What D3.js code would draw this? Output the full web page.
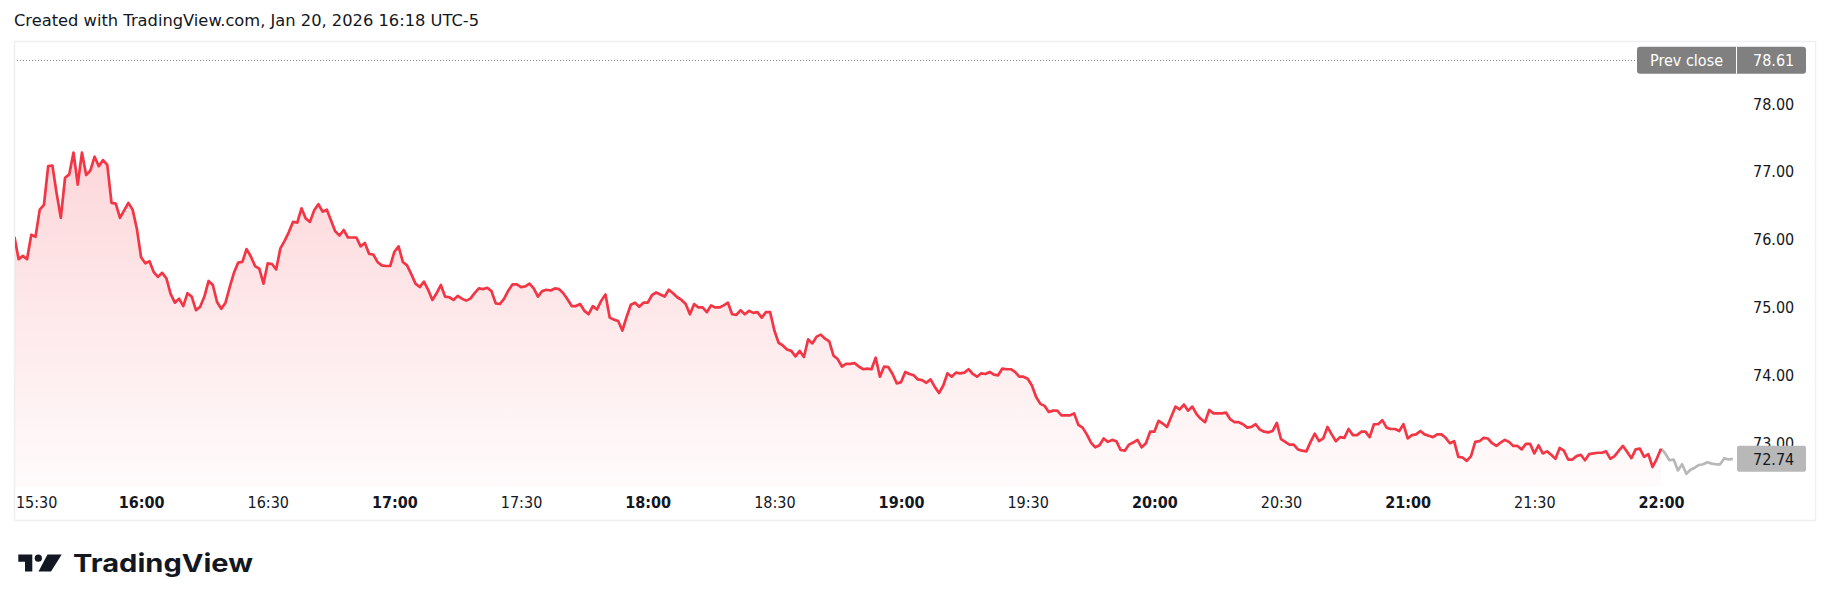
<!DOCTYPE html>
<html><head><meta charset="utf-8">
<script src="https://cdn.jsdelivr.net/npm/d3@7"></script>
<style>
html,body{margin:0;padding:0;background:#fff;}
svg{display:block;}
</style></head>
<body>
<svg id="chart" width="1830" height="611"></svg>
<script>
// ---------- data ----------
const headerText = "Created with TradingView.com, Jan 20, 2026 16:18 UTC-5";
const sessionStart = "15:30";
const axisEnd = "22:00";
// one close per minute, starting 15:30 (regular session, red)
const regularPrices = [
76.01,75.68,75.73,75.68,76.04,76.01,76.41,76.48,77.05,77.06,
76.65,76.29,76.88,76.93,77.25,76.78,77.25,76.92,76.99,77.19,
77.05,77.14,77.07,76.51,76.50,76.29,76.40,76.51,76.41,76.13,
75.71,75.62,75.65,75.49,75.42,75.48,75.40,75.17,75.04,75.10,
74.99,75.18,75.13,74.93,74.98,75.13,75.36,75.30,75.05,74.95,
75.04,75.27,75.48,75.63,75.64,75.83,75.72,75.58,75.54,75.32,
75.62,75.61,75.53,75.84,75.95,76.08,76.23,76.22,76.43,76.28,
76.23,76.40,76.49,76.38,76.41,76.25,76.09,76.03,76.11,76.00,
76.00,76.00,75.87,75.92,75.76,75.75,75.64,75.59,75.58,75.58,
75.79,75.87,75.64,75.59,75.46,75.32,75.27,75.35,75.23,75.08,
75.18,75.30,75.13,75.12,
75.08,75.14,75.10,75.07,75.10,75.18,75.25,75.24,75.26,75.21,
75.03,75.02,75.10,75.22,75.31,75.31,75.27,75.28,75.32,75.25,
75.13,75.21,75.23,75.22,75.25,75.24,75.18,75.09,74.99,74.99,
75.02,74.92,74.87,74.99,74.94,75.07,75.16,74.82,74.79,74.77,
74.63,74.83,75.01,75.04,74.98,75.04,75.04,75.15,75.19,75.16,
75.13,75.23,75.18,75.12,75.08,75.02,74.87,75.02,74.97,74.97,
74.90,75.00,74.97,74.97,75.00,75.04,74.87,74.86,74.93,74.87,
74.92,74.89,74.90,74.82,74.90,74.90,74.63,74.45,74.41,74.35,
74.33,74.25,74.33,74.24,74.50,74.44,74.54,74.57,74.51,74.47,
74.26,74.21,74.10,74.14,74.14,
74.15,74.10,74.06,74.07,74.06,74.23,73.95,74.10,74.09,73.99,
73.85,73.87,74.02,73.99,73.97,73.91,73.90,73.86,73.91,73.80,
73.71,73.82,74.00,73.95,74.01,74.00,74.01,74.06,73.99,73.95,
74.00,73.99,74.02,73.98,73.97,74.07,74.06,74.06,74.02,73.95,
73.95,73.92,73.82,73.65,73.55,73.52,73.43,73.45,73.45,73.38,
73.38,73.38,73.41,73.24,73.20,73.10,72.98,72.91,72.94,73.04,
72.99,73.02,73.00,72.87,72.86,72.95,72.98,73.02,72.91,72.97,
73.14,73.14,73.30,73.26,73.21,73.36,73.51,73.47,73.54,73.45,
73.51,73.40,73.33,73.28,73.46,73.41,73.41,73.41,73.42,73.32,
73.28,73.28,73.25,73.20,73.21,
73.25,73.17,73.14,73.13,73.15,73.27,73.03,72.99,72.95,72.95,
72.88,72.86,72.85,72.99,73.11,73.00,73.04,73.21,73.10,73.00,
73.06,73.05,73.18,73.09,73.09,73.14,73.14,73.06,73.25,73.25,
73.31,73.20,73.18,73.18,73.15,73.25,73.04,73.09,73.10,73.15,
73.10,73.08,73.06,73.10,73.10,73.05,72.97,73.00,72.77,72.76,
72.71,72.78,72.99,73.00,73.05,73.04,72.97,
72.93,72.98,73.02,72.99,72.93,72.93,72.88,72.96,72.96,72.82,
72.94,72.82,72.85,72.80,72.74,72.90,72.86,72.73,72.73,72.78,
72.80,72.72,72.81,72.82,72.83,72.83,72.85,72.74,72.78,72.86,
72.93,72.84,72.75,72.88,72.89,72.77,72.81,72.62,72.74,72.89
];
// extended hours continuation (grey)
const extendedPrices = [72.82,72.72,72.73,72.57,72.66,72.52,72.58,72.61,72.65,72.66,72.69,72.67,72.66,72.66,72.75,72.73,72.74];
const timeTicks = ["15:30","16:00","16:30","17:00","17:30","18:00","18:30","19:00","19:30","20:00","20:30","21:00","21:30","22:00"];
const priceTicks = [73,74,75,76,77,78];
const prevClose = 78.61;
const lastPrice = 72.74;
const prevCloseLabel = "Prev close";
const logoText = "TradingView";

// ---------- layout ----------
const panel = {x:14, y:41, w:1801, h:479};
const plot = {left:14.4, right:1661, bottom:486};
const FONT = "'DejaVu Sans Condensed','DejaVu Sans',sans-serif";
const RED = "#f23645", GREY = "#b8b8b8", TEXT = "#131722";

const svg = d3.select("#chart");
const parse = d3.timeParse("%H:%M");
const t0 = parse(sessionStart);

const x = d3.scaleTime().domain([t0, parse(axisEnd)]).range([plot.left, plot.right]);
const y = d3.scaleLinear().domain([73, 78]).range([441.2, 101.7]);

const reg = regularPrices.map((p,i)=>({t:d3.timeMinute.offset(t0,i), p}));
const lastReg = reg[reg.length-1];
const ext = [lastReg].concat(extendedPrices.map((p,i)=>({t:d3.timeMinute.offset(t0, regularPrices.length+i), p})));

// header
svg.append("text").attr("x",14).attr("y",25.5)
  .attr("font-family","'DejaVu Sans',sans-serif").attr("font-size",16.3).attr("fill",TEXT)
  .text(headerText);

// panel border
svg.append("rect").attr("x",panel.x+0.5).attr("y",panel.y+0.5).attr("width",panel.w).attr("height",panel.h)
  .attr("fill","none").attr("stroke","#eef0f3").attr("stroke-width",1.5);

// gradient
const defs = svg.append("defs");
const grad = defs.append("linearGradient").attr("id","areaGrad")
  .attr("gradientUnits","userSpaceOnUse").attr("x1",0).attr("x2",0)
  .attr("y1", y(d3.max(regularPrices))).attr("y2", plot.bottom);
grad.append("stop").attr("offset",0).attr("stop-color",RED).attr("stop-opacity",0.2);
grad.append("stop").attr("offset",1).attr("stop-color",RED).attr("stop-opacity",0.02);

const clip = defs.append("clipPath").attr("id","plotClip");
clip.append("rect").attr("x",panel.x+1).attr("y",panel.y+1).attr("width",1720).attr("height",plot.bottom-panel.y-1);

const g = svg.append("g").attr("clip-path","url(#plotClip)");

// area
g.append("path").datum(reg)
  .attr("d", d3.area().x(d=>x(d.t)).y0(plot.bottom).y1(d=>y(d.p)))
  .attr("fill","url(#areaGrad)");

// prev close dotted line
g.append("line").attr("x1",panel.x).attr("x2",1637)
  .attr("y1",Math.round(y(prevClose))+0.5).attr("y2",Math.round(y(prevClose))+0.5)
  .attr("stroke","#8a8d96").attr("stroke-width",1).attr("stroke-dasharray","1,2");

// lines
g.append("path").datum(ext)
  .attr("d", d3.line().x(d=>x(d.t)).y(d=>y(d.p)))
  .attr("fill","none").attr("stroke",GREY).attr("stroke-width",2.7).attr("stroke-linejoin","round");
g.append("path").datum(reg)
  .attr("d", d3.line().x(d=>x(d.t)).y(d=>y(d.p)))
  .attr("fill","none").attr("stroke",RED).attr("stroke-width",2.7).attr("stroke-linejoin","round");

// time axis
const xAxis = svg.append("g").attr("transform",`translate(0,${plot.bottom})`)
  .call(d3.axisBottom(x).tickValues(timeTicks.map(parse)).tickFormat(d3.timeFormat("%H:%M")).tickSize(0));
xAxis.select(".domain").remove();
xAxis.selectAll("text")
  .attr("y",22).attr("dy",null)
  .attr("font-family",FONT).attr("font-stretch","condensed").attr("font-size",16).attr("fill",TEXT)
  .attr("font-weight", d=> d.getMinutes()===0 ? "bold" : "normal")
  .each(function(d,i){ if(i===0){ d3.select(this).attr("text-anchor","start").attr("x",1); } });

// price axis
const yAxis = svg.append("g").attr("transform","translate(1753,0)")
  .call(d3.axisRight(y).tickValues(priceTicks).tickFormat(d3.format(".2f")).tickSize(0).tickPadding(0));
yAxis.select(".domain").remove();
yAxis.selectAll("text")
  .attr("dy",null).attr("y",7.3)
  .attr("font-family",FONT).attr("font-stretch","condensed").attr("font-size",16).attr("fill",TEXT);

// prev close label
const pcY = y(prevClose);
svg.append("rect").attr("x",1637).attr("y",pcY-13.5).attr("width",169).attr("height",27).attr("rx",3)
  .attr("fill","#808080");
svg.append("line").attr("x1",1736.5).attr("x2",1736.5).attr("y1",pcY-13.5).attr("y2",pcY+13.5)
  .attr("stroke","#fff").attr("stroke-width",1);
svg.append("text").attr("x",1686.5).attr("y",pcY+6).attr("text-anchor","middle")
  .attr("font-family",FONT).attr("font-stretch","condensed").attr("font-size",16).attr("fill","#fff")
  .text(prevCloseLabel);
svg.append("text").attr("x",1753).attr("y",pcY+6)
  .attr("font-family",FONT).attr("font-stretch","condensed").attr("font-size",16).attr("fill","#fff")
  .text(d3.format(".2f")(prevClose));

// last price label
const lpY = y(lastPrice);
svg.append("rect").attr("x",1737).attr("y",lpY-13).attr("width",69).attr("height",26).attr("rx",2)
  .attr("fill","#b8b8b8");
svg.append("text").attr("x",1753).attr("y",lpY+6.5)
  .attr("font-family",FONT).attr("font-stretch","condensed").attr("font-size",16).attr("fill",TEXT)
  .text(d3.format(".2f")(lastPrice));

// logo
const logo = svg.append("g").attr("fill","#131722");
logo.append("path").attr("d","M18.3,554.5 H32.3 V571.5 H25 V561.7 H18.3 Z");
logo.append("circle").attr("cx",38.3).attr("cy",558.2).attr("r",3.6);
logo.append("path").attr("d","M47.5,554.5 H61.7 L51,571.5 H38.5 Z");
svg.append("text").attr("x",73).attr("y",571.5)
  .attr("font-family","Inter, 'Noto Sans', sans-serif").attr("font-weight",700).attr("font-size",24.5)
  .attr("fill","#131722").attr("textLength",180).attr("lengthAdjust","spacingAndGlyphs")
  .text(logoText);
</script>
</body></html>
